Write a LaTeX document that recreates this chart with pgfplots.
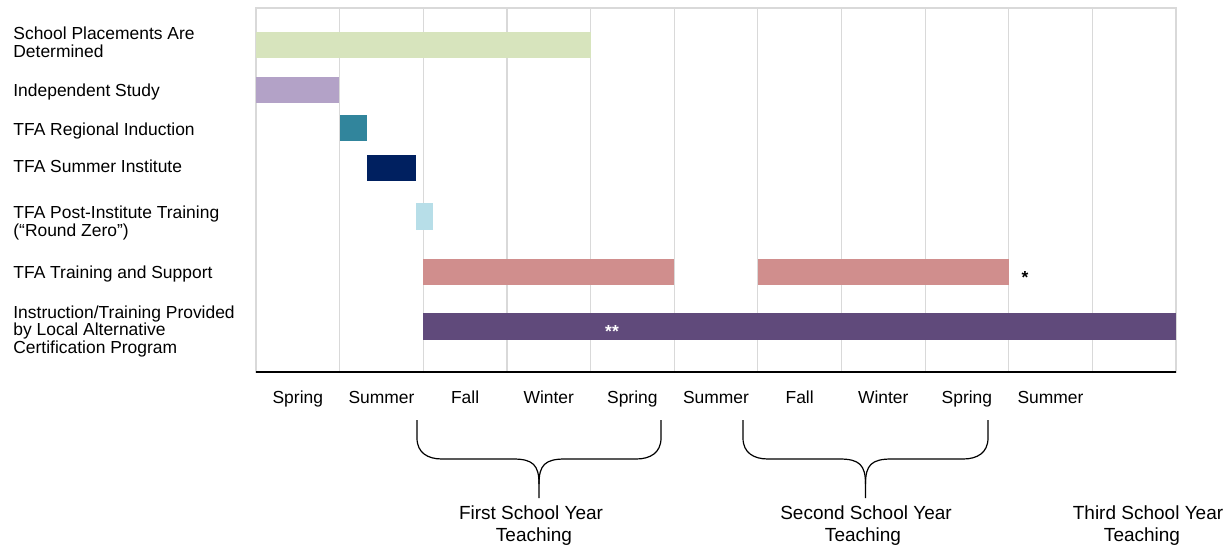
\documentclass[border=0pt]{standalone}
\usepackage{fontspec}
\setmainfont{Liberation Sans}
\usepackage{pgfplots}
\pgfplotsset{compat=1.18}
\definecolor{cPlace}{HTML}{D7E4BD}
\definecolor{cIndep}{HTML}{B3A2C7}
\definecolor{cRegion}{HTML}{31859C}
\definecolor{cInst}{HTML}{002060}
\definecolor{cPost}{HTML}{B7DEE8}
\definecolor{cTrain}{RGB}{208,142,141}
\definecolor{cLocal}{HTML}{604A7B}
\definecolor{gridgray}{HTML}{D9D9D9}
\newcommand{\lab}{\fontsize{8.72}{10}\selectfont}
\newcommand{\blab}{\fontsize{9.5}{11}\selectfont}
\newcommand{\tbrace}[2]{%
  \pgfmathsetmacro{\M}{(#1+#2)/2}%
  \draw[black, line width=0.6pt] (#1,420) -- (#1,438) .. controls (#1,453) and (#1+11,459) .. (#1+25,459)
     -- (\M-26,459) .. controls (\M-6,459) and (\M,465) .. (\M,484) -- (\M,498);
  \draw[black, line width=0.6pt] (#2,420) -- (#2,438) .. controls (#2,453) and (#2-11,459) .. (#2-25,459)
     -- (\M+26,459) .. controls (\M+6,459) and (\M,465) .. (\M,484);
}
\begin{document}
\begin{tikzpicture}
\begin{axis}[
  at={(128pt,-186pt)}, anchor=south west,
  scale only axis, width=460pt, height=182pt,
  xmin=0, xmax=11, ymin=0, ymax=364, y dir=reverse,
  xtick={0.5,1.5,2.5,3.5,4.5,5.5,6.5,7.5,8.5,9.5},
  xticklabels={Spring,Summer,Fall,Winter,Spring,Summer,Fall,Winter,Spring,Summer},
  ytick=\empty,
  minor xtick={1,2,3,4,5,6,7,8,9,10},
  xminorgrids, minor grid style={gridgray, line width=0.6pt},
  major tick length=0pt, minor tick length=0pt,
  axis line style={gridgray, line width=0.6pt},
  xticklabel style={font=\lab, anchor=base, yshift=-15.5pt, inner sep=0pt},
  clip=false,
]
% School Placements Are Determined
\addplot[fill=cPlace, draw=none] coordinates {(0,24) (4,24) (4,50) (0,50)} -- cycle;
% Independent Study
\addplot[fill=cIndep, draw=none] coordinates {(0,69) (0.99,69) (0.99,95) (0,95)} -- cycle;
% TFA Regional Induction
\addplot[fill=cRegion, draw=none] coordinates {(1,107) (1.33,107) (1.33,133) (1,133)} -- cycle;
% TFA Summer Institute
\addplot[fill=cInst, draw=none] coordinates {(1.33,147) (1.91,147) (1.91,173) (1.33,173)} -- cycle;
% TFA Post-Institute Training
\addplot[fill=cPost, draw=none] coordinates {(1.91,195) (2.12,195) (2.12,222) (1.91,222)} -- cycle;
% TFA Training and Support
\addplot[fill=cTrain, draw=none] coordinates {(2,251) (5,251) (5,277) (2,277)} -- cycle;
\addplot[fill=cTrain, draw=none] coordinates {(6,251) (9,251) (9,277) (6,277)} -- cycle;
% Instruction/Training Provided by Local Alternative Certification Program
\addplot[fill=cLocal, draw=none] coordinates {(2,305) (11,305) (11,332) (2,332)} -- cycle;
\end{axis}
\begin{scope}[x=0.5pt, y=-0.5pt]
\draw[black, line width=0.9pt] (256,372) -- (1176,372);
\tikzset{lbl/.style={anchor=base west, inner sep=0pt, font=\lab}}
\node[lbl] at (13,39.3) {School Placements Are};
\node[lbl] at (13,57.3) {Determined};
\node[lbl] at (13,96) {Independent Study};
\node[lbl] at (13,135) {TFA Regional Induction};
\node[lbl] at (13,172.7) {TFA Summer Institute};
\node[lbl] at (13,218.3) {TFA Post-Institute Training};
\node[lbl] at (13,236) {(“Round Zero”)};
\node[lbl] at (13,278.3) {TFA Training and Support};
\node[lbl] at (13,318.3) {Instruction/Training Provided};
\node[lbl] at (13,335.7) {by Local Alternative};
\node[lbl] at (13,353.3) {Certification Program};
\node[anchor=base, inner sep=0pt, font=\bfseries\lab] at (1025,283) {*};
\node[anchor=base, inner sep=0pt, font=\bfseries\lab, text=white] at (612,337) {**};
\tbrace{417}{661}
\tbrace{743}{988}
\tikzset{blbl/.style={anchor=base, inner sep=0pt, font=\blab}}
\node[blbl] at (531,519) {First School Year};
\node[blbl] at (534,541) {Teaching};
\node[blbl] at (866,519) {Second School Year};
\node[blbl] at (863,541) {Teaching};
\node[blbl] at (1148,519) {Third School Year};
\node[blbl] at (1142,541) {Teaching};
\pgfresetboundingbox
\path[use as bounding box] (0,0) rectangle (1231,546);
\end{scope}
\end{tikzpicture}
\end{document}
